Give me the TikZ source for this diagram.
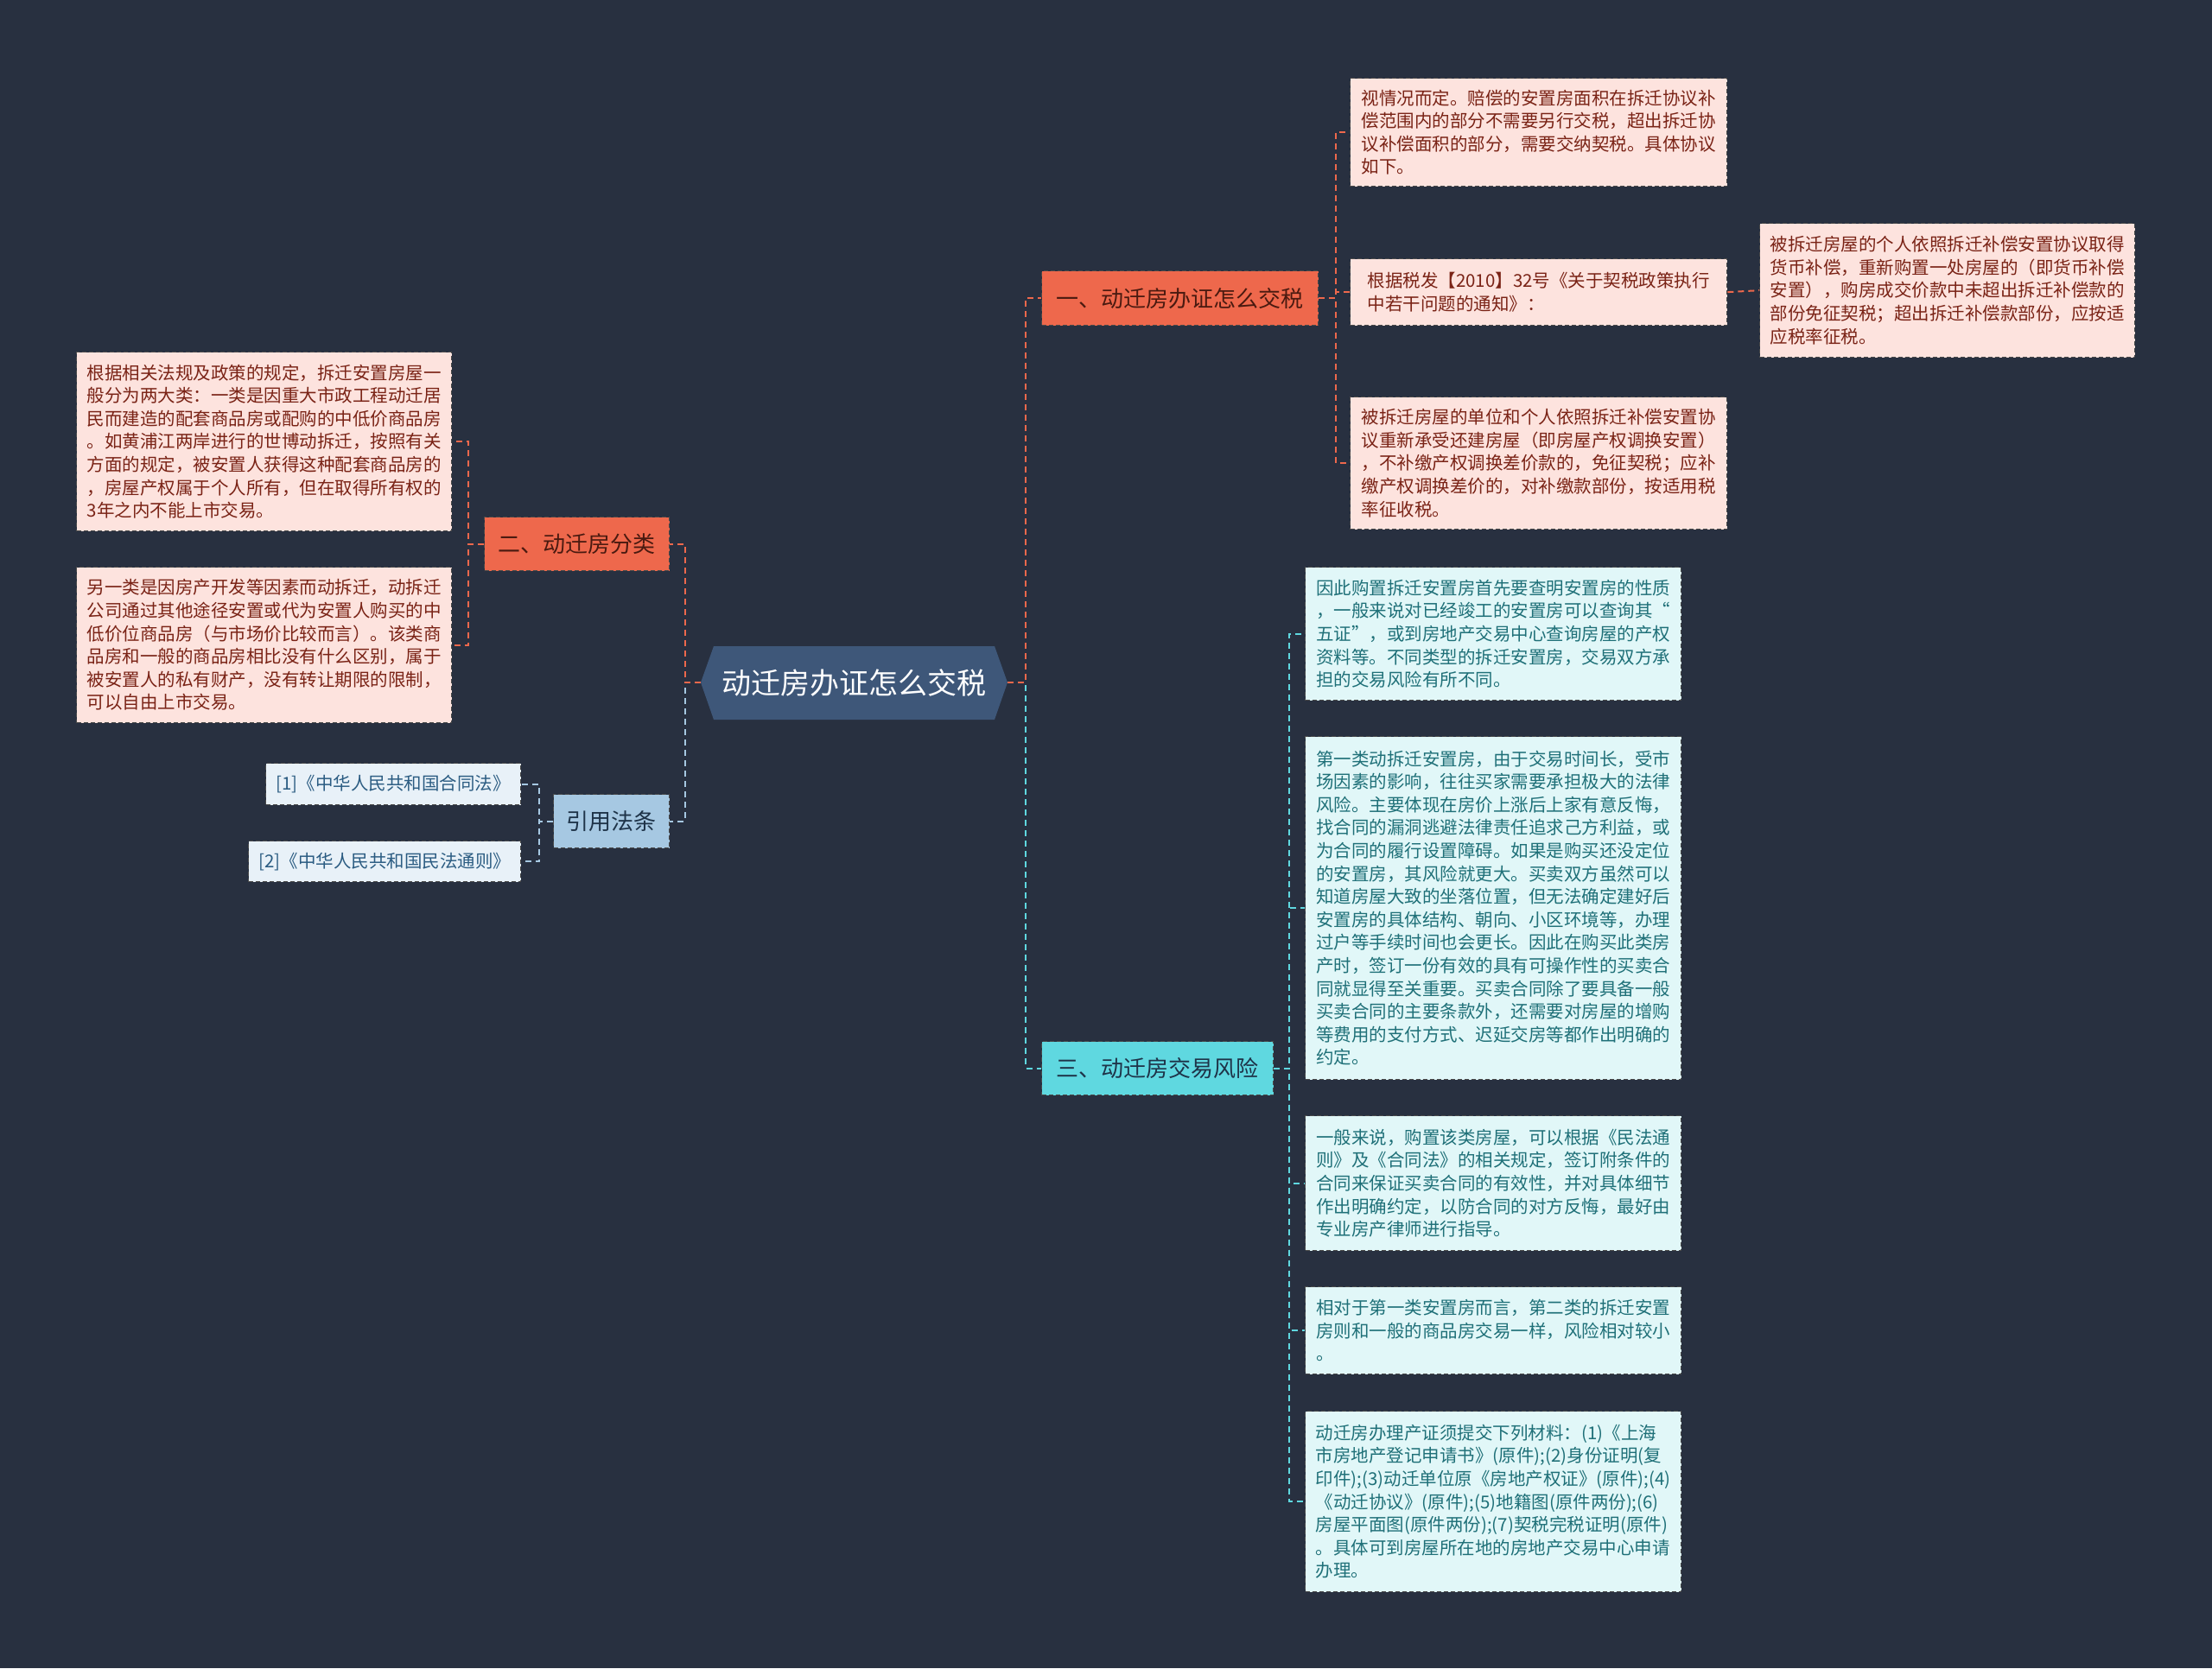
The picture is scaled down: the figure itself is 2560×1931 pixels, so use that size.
\documentclass[tikz,border=0pt]{standalone}
\usepackage{fontspec}
\newfontfamily\cjk{Noto Sans CJK SC}
\definecolor{bg}{HTML}{283040}
\definecolor{cCenter}{HTML}{3E5779}
\definecolor{cOr}{HTML}{EE684C}
\definecolor{cCy}{HTML}{5FD8E0}
\definecolor{cBl}{HTML}{A6C8E2}
\definecolor{pinkF}{HTML}{FDE3DE}
\definecolor{pinkT}{HTML}{7A2316}
\definecolor{cyF}{HTML}{E1F7F8}
\definecolor{cyT}{HTML}{1F7078}
\definecolor{blF}{HTML}{E8F1F8}
\definecolor{blT}{HTML}{2B5C82}
\definecolor{bordr}{HTML}{4A4A4A}
\definecolor{brTO}{HTML}{4A1A10}
\definecolor{brTB}{HTML}{1E3348}
\tikzset{
  leafbase/.style={draw=bordr, dash pattern=on 5pt off 3pt, line width=1.3pt, align=left, inner sep=0pt, anchor=north west,
    font=\cjk\fontsize{20.5pt}{26.6pt}\selectfont},
  leafR/.style={leafbase, fill=pinkF, text=pinkT},
  leafC/.style={leafbase, fill=cyF, text=cyT},
  leafB/.style={leafbase, fill=blF, text=blT},
  brnode/.style={draw=bordr, dash pattern=on 5pt off 3pt, line width=1.3pt, inner sep=0pt, anchor=north west,
    font=\cjk\fontsize{26pt}{30pt}\selectfont},
  conO/.style={draw=cOr, line width=2pt, dash pattern=on 7pt off 5pt},
  conC/.style={draw=cCy, line width=2pt, dash pattern=on 7pt off 5pt},
  conB/.style={draw=cBl, line width=2pt, dash pattern=on 7pt off 5pt},
}
\begin{document}
\begin{tikzpicture}[x=1pt,y=-1pt]
\useasboundingbox (0,0) rectangle (2560,1931);
\fill[bg] (0,0) rectangle (2560,1931);

% center
\fill[cCenter] (811,790) -- (826,748) -- (1151,748) -- (1166,790) -- (1151,833) -- (826,833) -- cycle;
\node[minimum width=355pt, minimum height=85pt, inner sep=0pt, text=white, font=\cjk\fontsize{34pt}{38pt}\selectfont] (c) at (988.5,790) {动迁房办证怎么交税};

% branches
\node[brnode, fill=cOr, text=brTO, minimum width=320pt, minimum height=63pt] (b1) at (1205,313) {一、动迁房办证怎么交税};
\node[brnode, fill=cOr, text=brTO, minimum width=214pt, minimum height=62pt] (b2) at (560,598) {二、动迁房分类};
\node[brnode, fill=cBl, text=brTB, minimum width=134pt, minimum height=62pt] (b3) at (640,919) {引用法条};
\node[brnode, fill=cCy, text=brTB, minimum width=268pt, minimum height=62pt] (b4) at (1205,1205) {三、动迁房交易风险};

% branch 1 leaves
\node[leafR, minimum width=436pt, minimum height=125pt] (l1a) at (1562,90) {视情况而定。赔偿的安置房面积在拆迁协议补\\偿范围内的部分不需要另行交税，超出拆迁协\\议补偿面积的部分，需要交纳契税。具体协议\\如下。};
\node[leafR, minimum width=436pt, minimum height=77pt] (l1b) at (1562,299) {根据税发【2010】32号《关于契税政策执行\\中若干问题的通知》：};
\node[leafR, minimum width=434pt, minimum height=155pt] (l1bb) at (2036,258) {被拆迁房屋的个人依照拆迁补偿安置协议取得\\货币补偿，重新购置一处房屋的（即货币补偿\\安置），购房成交价款中未超出拆迁补偿款的\\部份免征契税；超出拆迁补偿款部份，应按适\\应税率征税。};
\node[leafR, minimum width=436pt, minimum height=153pt] (l1c) at (1562,459) {被拆迁房屋的单位和个人依照拆迁补偿安置协\\议重新承受还建房屋（即房屋产权调换安置）\\，不补缴产权调换差价款的，免征契税；应补\\缴产权调换差价的，对补缴款部份，按适用税\\率征收税。};

% branch 2 leaves
\node[leafR, minimum width=434pt, minimum height=207pt] (l2a) at (88,407) {根据相关法规及政策的规定，拆迁安置房屋一\\般分为两大类：一类是因重大市政工程动迁居\\民而建造的配套商品房或配购的中低价商品房\\。如黄浦江两岸进行的世博动拆迁，按照有关\\方面的规定，被安置人获得这种配套商品房的\\，房屋产权属于个人所有，但在取得所有权的\\3年之内不能上市交易。};
\node[leafR, minimum width=434pt, minimum height=180pt] (l2b) at (88,656) {另一类是因房产开发等因素而动拆迁，动拆迁\\公司通过其他途径安置或代为安置人购买的中\\低价位商品房（与市场价比较而言）。该类商\\品房和一般的商品房相比没有什么区别，属于\\被安置人的私有财产，没有转让期限的限制，\\可以自由上市交易。};

% branch 3 leaves
\node[leafB, minimum width=295pt, minimum height=48pt, align=center] (l3a) at (307,883) {[1]《中华人民共和国合同法》};
\node[leafB, minimum width=315pt, minimum height=47pt, align=center] (l3b) at (287,973) {[2]《中华人民共和国民法通则》};

% branch 4 leaves
\node[leafC, minimum width=435pt, minimum height=154pt] (l4a) at (1510,656) {因此购置拆迁安置房首先要查明安置房的性质\\，一般来说对已经竣工的安置房可以查询其“\\五证”，或到房地产交易中心查询房屋的产权\\资料等。不同类型的拆迁安置房，交易双方承\\担的交易风险有所不同。};
\node[leafC, minimum width=435pt, minimum height=397pt] (l4b) at (1510,852) {第一类动拆迁安置房，由于交易时间长，受市\\场因素的影响，往往买家需要承担极大的法律\\风险。主要体现在房价上涨后上家有意反悔，\\找合同的漏洞逃避法律责任追求己方利益，或\\为合同的履行设置障碍。如果是购买还没定位\\的安置房，其风险就更大。买卖双方虽然可以\\知道房屋大致的坐落位置，但无法确定建好后\\安置房的具体结构、朝向、小区环境等，办理\\过户等手续时间也会更长。因此在购买此类房\\产时，签订一份有效的具有可操作性的买卖合\\同就显得至关重要。买卖合同除了要具备一般\\买卖合同的主要条款外，还需要对房屋的增购\\等费用的支付方式、迟延交房等都作出明确的\\约定。};
\node[leafC, minimum width=435pt, minimum height=156pt] (l4c) at (1510,1291) {一般来说，购置该类房屋，可以根据《民法通\\则》及《合同法》的相关规定，签订附条件的\\合同来保证买卖合同的有效性，并对具体细节\\作出明确约定，以防合同的对方反悔，最好由\\专业房产律师进行指导。};
\node[leafC, minimum width=435pt, minimum height=101pt] (l4d) at (1510,1489) {相对于第一类安置房而言，第二类的拆迁安置\\房则和一般的商品房交易一样，风险相对较小\\。};
\node[leafC, minimum width=435pt, minimum height=209pt] (l4e) at (1510,1633) {动迁房办理产证须提交下列材料：(1)《上海\\市房地产登记申请书》(原件);(2)身份证明(复\\印件);(3)动迁单位原《房地产权证》(原件);(4)\\《动迁协议》(原件);(5)地籍图(原件两份);(6)\\房屋平面图(原件两份);(7)契税完税证明(原件)\\。具体可到房屋所在地的房地产交易中心申请\\办理。};

% connectors: center to branches
\draw[conC] (c.east) -- ++(21,0) |- (b4.west);
\draw[conO] (c.east) -- ++(21,0) |- (b1.west);
\draw[conB] (c.west) -- ++(-18,0) |- (b3.east);
\draw[conO] (c.west) -- ++(-18,0) |- (b2.east);

% branch 1 to leaves
\draw[conO] (b1.east) -- ++(20,0) |- (l1a.west);
\draw[conO] (b1.east) -- ++(20,0) |- (l1b.west);
\draw[conO] (b1.east) -- ++(20,0) |- (l1c.west);
\draw[conO] (l1b.east) -- (l1bb.west);

% branch 2 to leaves
\draw[conO] (b2.west) -- ++(-18,0) |- (l2a.east);
\draw[conO] (b2.west) -- ++(-18,0) |- (l2b.east);

% branch 3 to leaves
\draw[conB] (b3.west) -- ++(-16,0) |- (l3a.east);
\draw[conB] (b3.west) -- ++(-16,0) |- (l3b.east);

% branch 4 to leaves
\draw[conC] (b4.east) -- ++(18,0) |- (l4a.west);
\draw[conC] (b4.east) -- ++(18,0) |- (l4b.west);
\draw[conC] (b4.east) -- ++(18,0) |- (l4c.west);
\draw[conC] (b4.east) -- ++(18,0) |- (l4d.west);
\draw[conC] (b4.east) -- ++(18,0) |- (l4e.west);
\end{tikzpicture}
\end{document}
